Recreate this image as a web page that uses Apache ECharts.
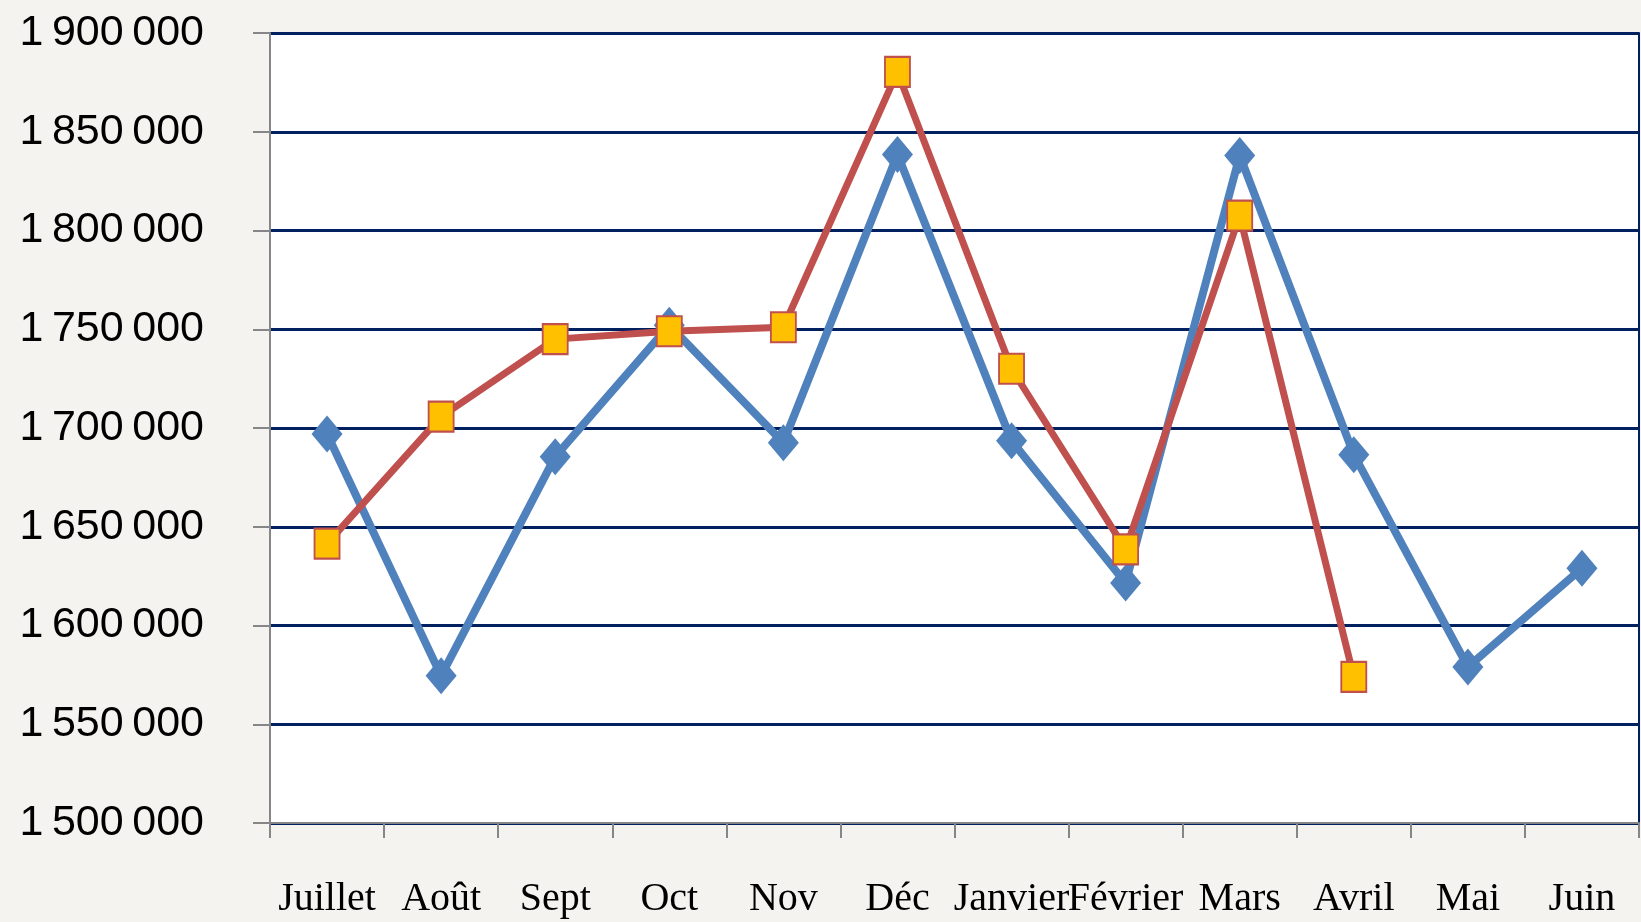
<!DOCTYPE html>
<html lang="fr">
<head>
    <meta charset="utf-8">
    <title>Courbe mensuelle</title>
    <script src="https://cdn.jsdelivr.net/npm/echarts@6/dist/echarts.min.js"></script>
    <style>
        html, body { margin: 0; padding: 0; background: #f4f3ef; }
        #chart { width: 1641px; height: 922px; }
    </style>
</head>
<body>
<div id="chart"></div>
<script>
    // mois (juillet -> juin)
    const months = ['Juillet', 'Août', 'Sept', 'Oct', 'Nov', 'Déc', 'Janvier', 'Février', 'Mars', 'Avril', 'Mai', 'Juin'];

    // série bleue (losanges)
    const serieBleue = [1697000, 1574500, 1685500, 1752000, 1692500, 1838500, 1693500, 1621500, 1838000, 1686500, 1579000, 1629000];

    // série rouge (carrés), pas de valeur pour mai et juin
    const serieRouge = [1641500, 1705800, 1745000, 1749000, 1751000, 1880300, 1730000, 1638500, 1807500, 1574000, null, null];

    // graduations de l'axe vertical
    const yMin = 1500000;
    const yMax = 1900000;
    const yStep = 50000;

    const chart = echarts.init(document.getElementById('chart'));

    // 1900000 -> "1 900 000" (espace fine)
    function formatNombre(v) {
        return String(v).replace(/\B(?=(\d{3})+(?!\d))/g, '\u2009');
    }

    const option = {
        backgroundColor: '#f4f3ef',
        animation: false,
        grid: {
            left: 270,
            right: 2,
            top: 33,
            bottom: 99,
            outerBoundsMode: 'none',
            show: true,
            backgroundColor: '#ffffff',
            borderWidth: 0
        },
        xAxis: {
            type: 'category',
            data: months,
            boundaryGap: true,
            axisLine: {lineStyle: {color: '#868686', width: 2}},
            axisTick: {
                show: true,
                length: 15,
                alignWithLabel: false,
                lineStyle: {color: '#868686', width: 2}
            },
            axisLabel: {
                interval: 0,
                hideOverlap: false,
                margin: 56,
                color: '#000',
                fontFamily: 'Liberation Serif',
                fontSize: 40
            },
            splitLine: {show: false}
        },
        yAxis: [{
            type: 'value',
            min: yMin,
            max: yMax,
            interval: yStep,
            axisLine: {show: true, lineStyle: {color: '#868686', width: 2}},
            axisTick: {show: true, length: 17, lineStyle: {color: '#868686', width: 2}},
            axisLabel: {
                margin: 66,
                color: '#000',
                fontFamily: 'Liberation Sans',
                fontSize: 43,
                formatter: formatNombre
            },
            splitLine: {lineStyle: {color: '#002060', width: 3}}
        }, {
            // bord droit de la zone de tracé
            type: 'value',
            position: 'right',
            min: yMin,
            max: yMax,
            interval: yStep,
            axisLine: {show: true, lineStyle: {color: '#002060', width: 2}},
            axisTick: {show: false},
            axisLabel: {show: false},
            splitLine: {show: false}
        }],
        series: [
            {
                name: 'Série bleue',
                type: 'line',
                data: serieBleue,
                symbol: 'diamond',
                symbolSize: [31, 37],
                lineStyle: {color: '#4f81bd', width: 8},
                itemStyle: {color: '#4f81bd', borderWidth: 0}
            },
            {
                name: 'Série rouge',
                type: 'line',
                data: serieRouge,
                symbol: 'rect',
                symbolSize: [25, 30],
                lineStyle: {color: '#c0504d', width: 7},
                itemStyle: {color: '#ffc000', borderColor: '#c0504d', borderWidth: 2}
            }
        ]
    };

    chart.setOption(option);
</script>
</body>
</html>
